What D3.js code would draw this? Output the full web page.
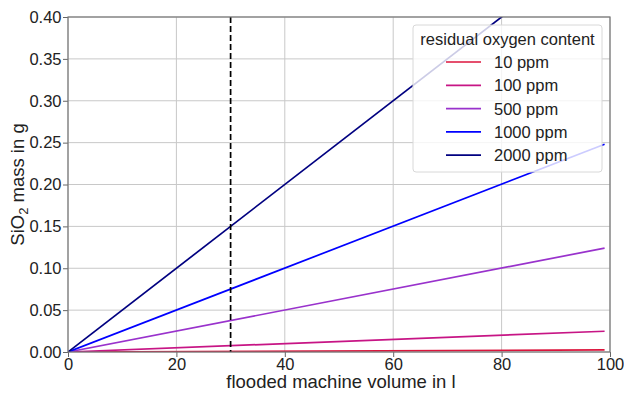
<!DOCTYPE html>
<html><head><meta charset="utf-8">
<script src="https://cdn.jsdelivr.net/npm/d3@7"></script>
<style>body{margin:0;background:#fff}svg{display:block;font-family:"Liberation Sans",Arial,sans-serif}</style>
</head><body><svg id="c" width="624" height="395"></svg>
<script>
const volumes = [0, 99];
const series = ["10 ppm", "100 ppm", "500 ppm", "1000 ppm", "2000 ppm"];
const mass10 = [0, 0.0025];
const mass100 = [0, 0.0248];
const mass500 = [0, 0.124];
const mass1000 = [0, 0.248];
const mass2000 = [0, 0.495];
const colors = ["#dc143c", "#c71585", "#9932cc", "#0000ff", "#000080"];
const xTicks = [0, 20, 40, 60, 80, 100];
const yTicks = [0, 0.05, 0.1, 0.15, 0.2, 0.25, 0.3, 0.35, 0.4];
const markerVolume = 30;

const allMass = [mass10, mass100, mass500, mass1000, mass2000];
const svg = d3.select("#c");
const L = 68, R = 610, T = 17, B = 352;
const x = d3.scaleLinear().domain([0, 100]).range([L, R]);
const y = d3.scaleLinear().domain([0, 0.4]).range([B, T]);
const fs = 16.5, fl = 18.5;

// grid
svg.append("g").selectAll("line").data(xTicks).join("line")
  .attr("x1", d => x(d)).attr("x2", d => x(d)).attr("y1", T).attr("y2", B)
  .attr("stroke", "#c8c8c8").attr("stroke-width", 1);
svg.append("g").selectAll("line").data(yTicks).join("line")
  .attr("x1", L).attr("x2", R).attr("y1", d => y(d)).attr("y2", d => y(d))
  .attr("stroke", "#c8c8c8").attr("stroke-width", 1);

svg.append("defs").append("clipPath").attr("id", "clip")
  .append("rect").attr("x", L).attr("y", T).attr("width", R - L).attr("height", B - T);

const line = d3.line().x(d => x(d[0])).y(d => y(d[1]));
const plot = svg.append("g").attr("clip-path", "url(#clip)");
series.forEach((s, i) => {
  plot.append("path").datum(volumes.map((v, j) => [v, allMass[i][j]]))
    .attr("d", line).attr("fill", "none").attr("stroke", colors[i]).attr("stroke-width", 1.7);
});
plot.append("line").attr("x1", x(markerVolume)).attr("x2", x(markerVolume))
  .attr("y1", y(0.4)).attr("y2", y(0))
  .attr("stroke", "#000").attr("stroke-width", 1.7).attr("stroke-dasharray", "6,3");

// axes
const xAxis = svg.append("g").attr("transform", `translate(0,${B})`)
  .call(d3.axisBottom(x).tickValues(xTicks).tickFormat(d3.format("d")).tickSize(5).tickPadding(1));
const yAxis = svg.append("g").attr("transform", `translate(${L},0)`)
  .call(d3.axisLeft(y).tickValues(yTicks).tickFormat(d3.format(".2f")).tickSize(5).tickPadding(1.5));
[xAxis, yAxis].forEach(a => {
  a.select(".domain").remove();
  a.selectAll("line").attr("stroke", "#666");
  a.selectAll("text").attr("font-size", fs).attr("fill", "#222").attr("font-family", "Liberation Sans, Arial, sans-serif");
});
svg.append("rect").attr("x", L).attr("y", T).attr("width", R - L).attr("height", B - T)
  .attr("fill", "none").attr("stroke", "#777").attr("stroke-width", 1.2);

// labels
svg.append("text").attr("x", (L + R) / 2 + 2).attr("y", 388).attr("text-anchor", "middle")
  .attr("font-size", fl).attr("fill", "#222").text("flooded machine volume in l");
const yl = svg.append("text").attr("transform", `translate(24,${(T + B) / 2}) rotate(-90)`)
  .attr("text-anchor", "middle").attr("font-size", fl).attr("fill", "#222");
yl.append("tspan").text("SiO");
yl.append("tspan").attr("font-size", fl * 0.7).attr("dy", 4).text("2");
yl.append("tspan").attr("dy", -4).text(" mass in g");

// legend
const lg = svg.append("g");
lg.append("rect").attr("x", 413).attr("y", 25).attr("width", 189).attr("height", 147)
  .attr("rx", 3).attr("fill", "rgba(255,255,255,0.8)").attr("stroke", "#d8d8d8");
lg.append("text").attr("x", 507.5).attr("y", 45).attr("text-anchor", "middle")
  .attr("font-size", fs).attr("fill", "#222").text("residual oxygen content");
series.forEach((s, i) => {
  const yy = 62 + i * 23.3;
  lg.append("line").attr("x1", 446).attr("x2", 481).attr("y1", yy).attr("y2", yy)
    .attr("stroke", colors[i]).attr("stroke-width", 1.7);
  lg.append("text").attr("x", 494).attr("y", yy + 6).attr("font-size", fs).attr("fill", "#222").text(s);
});
</script></body></html>
